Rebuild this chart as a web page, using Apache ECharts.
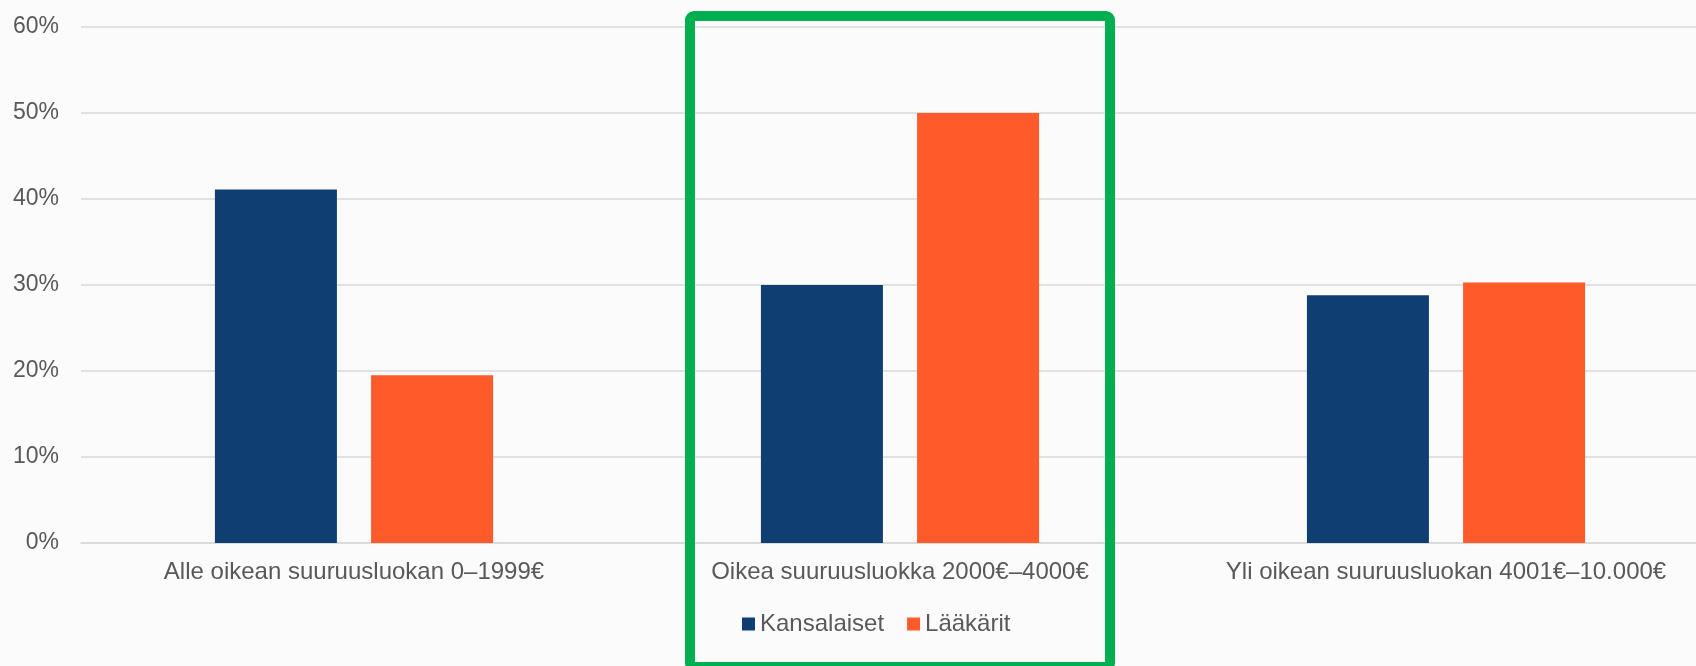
<!DOCTYPE html>
<html>
<head>
<meta charset="utf-8">
<script src="https://cdn.jsdelivr.net/npm/echarts@6/dist/echarts.min.js"></script>
<style>
html,body{margin:0;padding:0;background:#fbfbfb;overflow:hidden;width:1696px;height:666px;}
#chart{width:1719px;height:666px;}
</style>
</head>
<body>
<div id="chart"></div>
<script>
const categories = ['Alle oikean suuruusluokan 0–1999€', 'Oikea suuruusluokka 2000€–4000€', 'Yli oikean suuruusluokan 4001€–10.000€'];
const kansalaiset = [41.1, 30.0, 28.8];
const laakarit = [19.5, 50.0, 30.3];
const yTicks = [0, 10, 20, 30, 40, 50, 60];

const chart = echarts.init(document.getElementById('chart'));
const font = 'Liberation Sans, Arial, sans-serif';
chart.setOption({
  backgroundColor: '#fbfbfb',
  animation: false,
  grid: { left: 81, top: 27, right: 0, height: 516, containLabel: false },
  legend: {
    left: 742, top: 612, padding: 0,
    itemWidth: 13, itemHeight: 13, itemGap: 23,
    icon: 'rect',
    textStyle: { fontFamily: font, fontSize: 24, color: '#595959' },
    data: ['Kansalaiset', 'Lääkärit']
  },
  xAxis: {
    type: 'category',
    data: categories,
    axisLine: { lineStyle: { color: '#d9d9d9', width: 1.5 } },
    axisTick: { show: false },
    axisLabel: { fontFamily: font, fontSize: 24, color: '#595959', margin: 17, interval: 0 }
  },
  yAxis: {
    type: 'value',
    min: yTicks[0], max: yTicks[yTicks.length - 1], interval: 10,
    axisLine: { show: false },
    axisTick: { show: false },
    splitLine: { lineStyle: { color: '#d9d9d9', width: 1.5 } },
    axisLabel: { fontFamily: font, fontSize: 23, color: '#595959', margin: 22, formatter: '{value}%' }
  },
  series: [
    { name: 'Kansalaiset', type: 'bar', data: kansalaiset, barWidth: 122, barGap: '28%',
      itemStyle: { color: '#0f3f72' } },
    { name: 'Lääkärit', type: 'bar', data: laakarit, barWidth: 122,
      itemStyle: { color: '#ff5a29' } }
  ],
  graphic: [{
    type: 'rect', z: 100,
    shape: { x: 690, y: 16, width: 420, height: 651, r: 4 },
    style: { fill: 'none', stroke: '#00b050', lineWidth: 10 }
  }]
});
</script>
</body>
</html>
